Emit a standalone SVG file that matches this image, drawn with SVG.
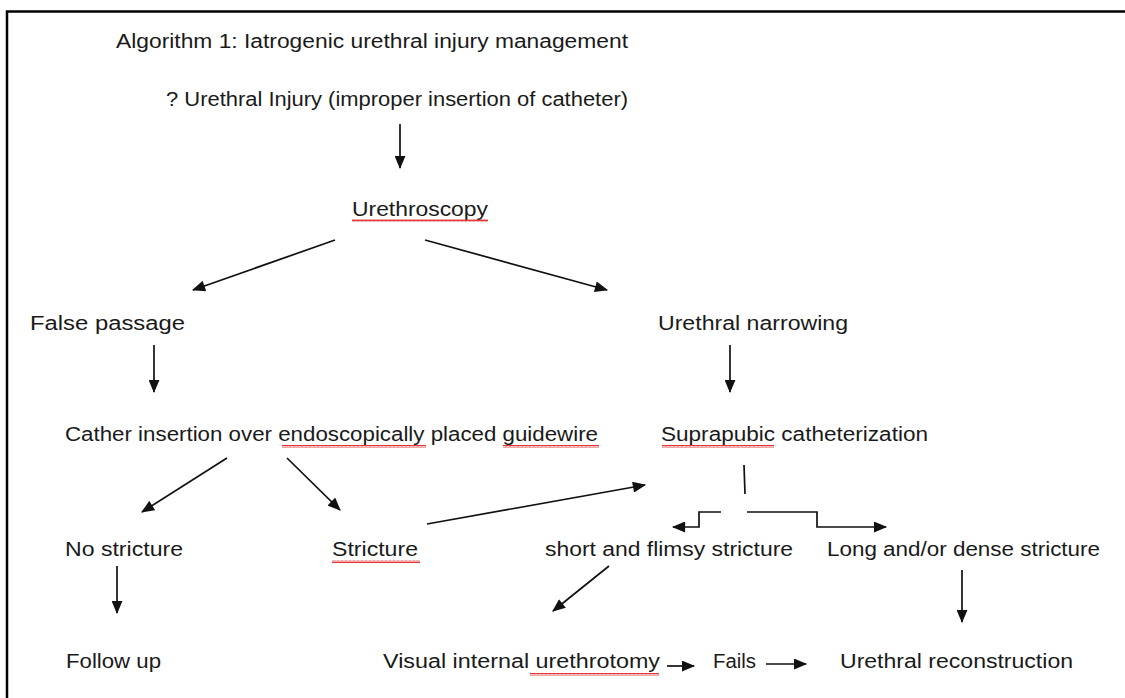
<svg xmlns="http://www.w3.org/2000/svg" width="1125" height="698" viewBox="0 0 1125 698">
<defs>
<style>
text{font-family:"Liberation Sans","DejaVu Sans",sans-serif;font-size:19.5px;fill:#1a1a1a;}
.c{stroke:#111;stroke-width:1.7;fill:none;}
.sq{fill:url(#wave);}
</style>
<marker id="a" viewBox="0 0 12 10" refX="11" refY="5" markerWidth="14" markerHeight="11" markerUnits="userSpaceOnUse" orient="auto">
<path d="M0,0 L12,5 L0,10 z" fill="#111"/>
</marker>
<pattern id="wave" width="4" height="3" patternUnits="userSpaceOnUse">
<path d="M0,2.5 L1,0.5 L2,2.5 L3,0.5 L4,2.5" stroke="#e02020" stroke-width="0.9" fill="none"/>
</pattern>
</defs>
<rect width="1125" height="698" fill="#fff"/>
<path d="M7,698 V11.5 H1125" stroke="#000" stroke-width="2.5" fill="none"/>

<g id="title"><text x="116" y="48" textLength="512" lengthAdjust="spacingAndGlyphs">Algorithm 1: Iatrogenic urethral injury management</text></g>
<g id="n-injury"><text x="166" y="106" textLength="462" lengthAdjust="spacingAndGlyphs">? Urethral Injury (improper insertion of catheter)</text></g>
<g id="n-urethroscopy"><text x="352" y="216" textLength="136" lengthAdjust="spacingAndGlyphs">Urethroscopy</text><rect class="sq" x="352" y="219" width="136" height="3"/></g>
<g id="n-false"><text x="30" y="330" textLength="155" lengthAdjust="spacingAndGlyphs">False passage</text></g>
<g id="n-narrowing"><text x="658" y="330" textLength="190" lengthAdjust="spacingAndGlyphs">Urethral narrowing</text></g>
<g id="n-cather"><text x="65" y="441" textLength="533" lengthAdjust="spacingAndGlyphs">Cather insertion over endoscopically placed guidewire</text><rect class="sq" x="282" y="445" width="144" height="3"/><rect class="sq" x="503" y="445" width="96" height="3"/></g>
<g id="n-suprapubic"><text x="661" y="441" textLength="267" lengthAdjust="spacingAndGlyphs">Suprapubic catheterization</text><rect class="sq" x="662" y="445" width="112" height="3"/></g>
<g id="n-nostricture"><text x="65" y="556" textLength="118" lengthAdjust="spacingAndGlyphs">No stricture</text></g>
<g id="n-stricture"><text x="332" y="556" textLength="86" lengthAdjust="spacingAndGlyphs">Stricture</text><rect class="sq" x="332" y="560" width="88" height="3"/></g>
<g id="n-short"><text x="545" y="556" textLength="248" lengthAdjust="spacingAndGlyphs">short and flimsy stricture</text></g>
<g id="n-long"><text x="827" y="556" textLength="273" lengthAdjust="spacingAndGlyphs">Long and/or dense stricture</text></g>
<g id="n-followup"><text x="66" y="668" textLength="95" lengthAdjust="spacingAndGlyphs">Follow up</text></g>
<g id="n-viu"><text x="383" y="668" textLength="277" lengthAdjust="spacingAndGlyphs">Visual internal urethrotomy</text><rect class="sq" x="530" y="673" width="129" height="3"/></g>
<g id="n-fails"><text x="713" y="668" textLength="43" lengthAdjust="spacingAndGlyphs">Fails</text></g>
<g id="n-reconstruction"><text x="840" y="668" textLength="233" lengthAdjust="spacingAndGlyphs">Urethral reconstruction</text></g>

<g id="connectors">
<path class="c" d="M400,124 V168" marker-end="url(#a)"/>
<path class="c" d="M335,240 L193,290" marker-end="url(#a)"/>
<path class="c" d="M425,240 L607,290" marker-end="url(#a)"/>
<path class="c" d="M154,345 V392" marker-end="url(#a)"/>
<path class="c" d="M730,345 V392" marker-end="url(#a)"/>
<path class="c" d="M227,458 L142,512" marker-end="url(#a)"/>
<path class="c" d="M287,458 L340,510" marker-end="url(#a)"/>
<path class="c" d="M427,524 L645,485" marker-end="url(#a)"/>
<path class="c" d="M744,465 L745,494"/>
<path class="c" d="M721,512 H699 V527 H673" marker-end="url(#a)"/>
<path class="c" d="M747,512 H817 V527 H886" marker-end="url(#a)"/>
<path class="c" d="M609,566 L553,611" marker-end="url(#a)"/>
<path class="c" d="M117,566 V613" marker-end="url(#a)"/>
<path class="c" d="M962,570 V622" marker-end="url(#a)"/>
<path class="c" d="M667,666 H694" marker-end="url(#a)"/>
<path class="c" d="M766,664 H806" marker-end="url(#a)"/>
</g>
</svg>
